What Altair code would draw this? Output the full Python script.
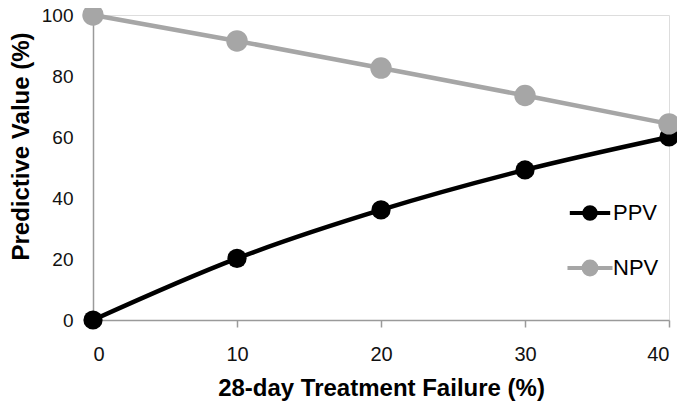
import altair as alt
import pandas as pd

failure = [0, 10, 20, 30, 40]
ppv = [0, 20.2, 36.1, 49.2, 60.0]
npv = [100, 91.5, 82.6, 73.6, 64.3]
series = ["PPV", "NPV"]
colors = ["#000000", "#A6A6A6"]
marker_sizes = [370, 460]

rows = []
for x, v in zip(failure, ppv):
    rows.append({"failure": x, "value": v, "series": "PPV"})
for x, v in zip(failure, npv):
    rows.append({"failure": x, "value": v, "series": "NPV"})
df = pd.DataFrame(rows)

FONT = "Liberation Sans"
sym_path = "M-2.1,0 L2.1,0 M-0.6,0 A0.6,0.6 0 1,1 0.6,0 A0.6,0.6 0 1,1 -0.6,0 Z"

color = alt.Color(
    "series:N",
    scale=alt.Scale(domain=series, range=colors),
    sort=series,
    legend=alt.Legend(
        title=None,
        orient="none",
        legendX=484,
        legendY=186,
        symbolType=sym_path,
        symbolSize=400,
        symbolStrokeWidth=4,
        symbolOpacity=1,
        labelFontSize=22,
        labelFont=FONT,
        labelColor="#000000",
        labelOffset=10,
        rowPadding=26,
        padding=0,
    ),
)

x = alt.X(
    "failure:Q",
    scale=alt.Scale(domain=[0, 40], nice=False),
    axis=alt.Axis(
        values=failure,
        title="28-day Treatment Failure (%)",
        grid=False,
        domainColor="#9A9A9A",
        domainWidth=1.5,
        tickColor="#9A9A9A",
        tickWidth=1.5,
        tickSize=7,
        labelPadding=17,
        labelFontSize=20,
        labelFont=FONT,
        labelColor="#111111",
        titleFontSize=24,
        titleFont=FONT,
        titleFontWeight="bold",
        titleColor="#000000",
        titleBaseline="alphabetic",
        titleY=75,
    ),
)
y = alt.Y(
    "value:Q",
    scale=alt.Scale(domain=[0, 100], nice=False),
    axis=alt.Axis(
        values=[0, 20, 40, 60, 80, 100],
        title="Predictive Value (%)",
        grid=False,
        ticks=False,
        domainColor="#9A9A9A",
        domainWidth=1.5,
        labelPadding=20,
        labelFontSize=19,
        labelFont=FONT,
        labelColor="#111111",
        titleFontSize=24,
        titleFont=FONT,
        titleFontWeight="bold",
        titleColor="#000000",
        titleBaseline="alphabetic",
        titleX=-65,
        titleY=131,
    ),
)

base = alt.Chart(df)
lines = base.mark_line(interpolate="monotone", strokeWidth=4.5).encode(
    x=x, y=y, color=color, detail="series:N"
)
points = base.mark_point(filled=True, opacity=1).encode(
    x=x,
    y=y,
    color=color,
    size=alt.Size("series:N", scale=alt.Scale(domain=series, range=marker_sizes), legend=None),
)

chart = (
    alt.layer(lines, points)
    .properties(
        width=576,
        height=305,
        autosize=alt.AutoSizeParams(type="none"),
        padding={"left": 85, "top": 7, "right": 8, "bottom": 81},
    )
    .configure_view(stroke=None)
    .configure(background="white")
)

chart.save("out.html", embed_options={"renderer": "svg", "actions": False})
